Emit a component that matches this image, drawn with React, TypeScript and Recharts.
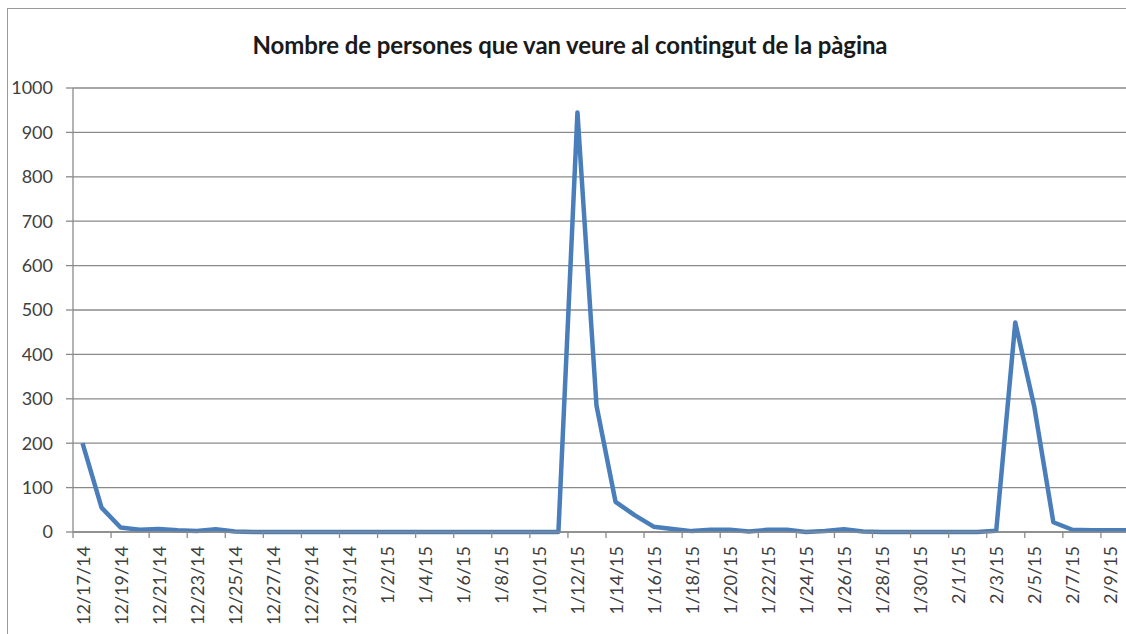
import React from 'react';
import { LineChart, Line, XAxis, YAxis, CartesianGrid } from 'recharts';

const dates = [
  '12/17/14', '12/18/14', '12/19/14', '12/20/14', '12/21/14', '12/22/14', '12/23/14', '12/24/14',
  '12/25/14', '12/26/14', '12/27/14', '12/28/14', '12/29/14', '12/30/14', '12/31/14',
  '1/1/15', '1/2/15', '1/3/15', '1/4/15', '1/5/15', '1/6/15', '1/7/15', '1/8/15', '1/9/15', '1/10/15',
  '1/11/15', '1/12/15', '1/13/15', '1/14/15', '1/15/15', '1/16/15', '1/17/15', '1/18/15', '1/19/15',
  '1/20/15', '1/21/15', '1/22/15', '1/23/15', '1/24/15', '1/25/15', '1/26/15', '1/27/15', '1/28/15',
  '1/29/15', '1/30/15', '1/31/15',
  '2/1/15', '2/2/15', '2/3/15', '2/4/15', '2/5/15', '2/6/15', '2/7/15', '2/8/15', '2/9/15', '2/10/15',
];

const persones = [
  200, 55, 10, 5, 7, 4, 2, 6, 1, 0, 0, 0, 0, 0, 0,
  0, 0, 0, 0, 0, 0, 0, 0, 0, 0,
  0, 945, 285, 68, 38, 12, 7, 2, 5,
  5, 1, 5, 5, 0, 2, 6, 1, 0,
  0, 0, 0,
  0, 0, 3, 472, 282, 22, 5, 4, 4, 4,
];

const yTicks = [0, 100, 200, 300, 400, 500, 600, 700, 800, 900, 1000];

const TITLE = 'Nombre de persones que van veure al contingut de la pàgina';

const data = dates.map((d, i) => ({ date: d, value: persones[i] }));

const CHART_W = 1140;
const CHART_H = 634;
const Y_AXIS_W = 73;
const PLOT_W = CHART_W - Y_AXIS_W - 1;
const HALF_BAND = PLOT_W / dates.length / 2;
const GRAY = '#8a8a8a';
const FONT = 'Lato, "Open Sans", sans-serif';

// excel style: tick marks sit between categories, labels at the category centre
const DateTick = (props: any) => {
  const { x, y, payload } = props;
  const axisY = y - 8;
  return (
    <g>
      <line x1={x - HALF_BAND} x2={x - HALF_BAND} y1={axisY} y2={axisY + 6} stroke={GRAY} strokeWidth={1.3} />
      <text
        transform={`translate(${x},${axisY + 14}) rotate(-90)`}
        textAnchor="end"
        dominantBaseline="central"
        fontSize={18}
        fontFamily={FONT}
        fill="#404040"
      >
        {payload.value}
      </text>
    </g>
  );
};

export default function App() {
  return (
    <div
      style={{
        position: 'absolute',
        left: 0,
        top: 0,
        width: 1126,
        height: 634,
        overflow: 'hidden',
        background: '#fff',
        fontFamily: FONT,
      }}
    >
      <div
        style={{
          position: 'absolute',
          left: 7,
          top: 8,
          width: 1300,
          height: 800,
          border: '1.5px solid #9a9a9a',
        }}
      />
      <div
        style={{
          position: 'absolute',
          left: 0,
          top: 30,
          width: CHART_W,
          textAlign: 'center',
          fontSize: 24,
          fontWeight: 700,
          color: '#1a1a1a',
          letterSpacing: -0.1,
        }}
      >
        {TITLE}
      </div>
      <div style={{ position: 'absolute', left: 0, top: 0 }}>
        <LineChart
          width={CHART_W}
          height={CHART_H}
          data={data}
          margin={{ top: 88, right: 1, left: 0, bottom: 0 }}
        >
          <CartesianGrid vertical={false} stroke={GRAY} strokeWidth={1.3} />
          <XAxis
            dataKey="date"
            scale="band"
            interval={1}
            height={102}
            tickLine={false}
            tickSize={6}
            tickMargin={2}
            axisLine={{ stroke: GRAY, strokeWidth: 1.3 }}
            tick={<DateTick />}
          />
          <YAxis
            width={Y_AXIS_W}
            domain={[0, 1000]}
            ticks={yTicks}
            interval={0}
            tickSize={7}
            tickMargin={13}
            axisLine={{ stroke: GRAY, strokeWidth: 1.3 }}
            tickLine={{ stroke: GRAY, strokeWidth: 1.3 }}
            tick={{ fontSize: 18, fontFamily: FONT, fill: '#404040' }}
          />
          <Line
            type="linear"
            dataKey="value"
            stroke="#4a7ebb"
            strokeWidth={4.5}
            strokeLinejoin="round"
            dot={false}
            isAnimationActive={false}
          />
        </LineChart>
      </div>
    </div>
  );
}
